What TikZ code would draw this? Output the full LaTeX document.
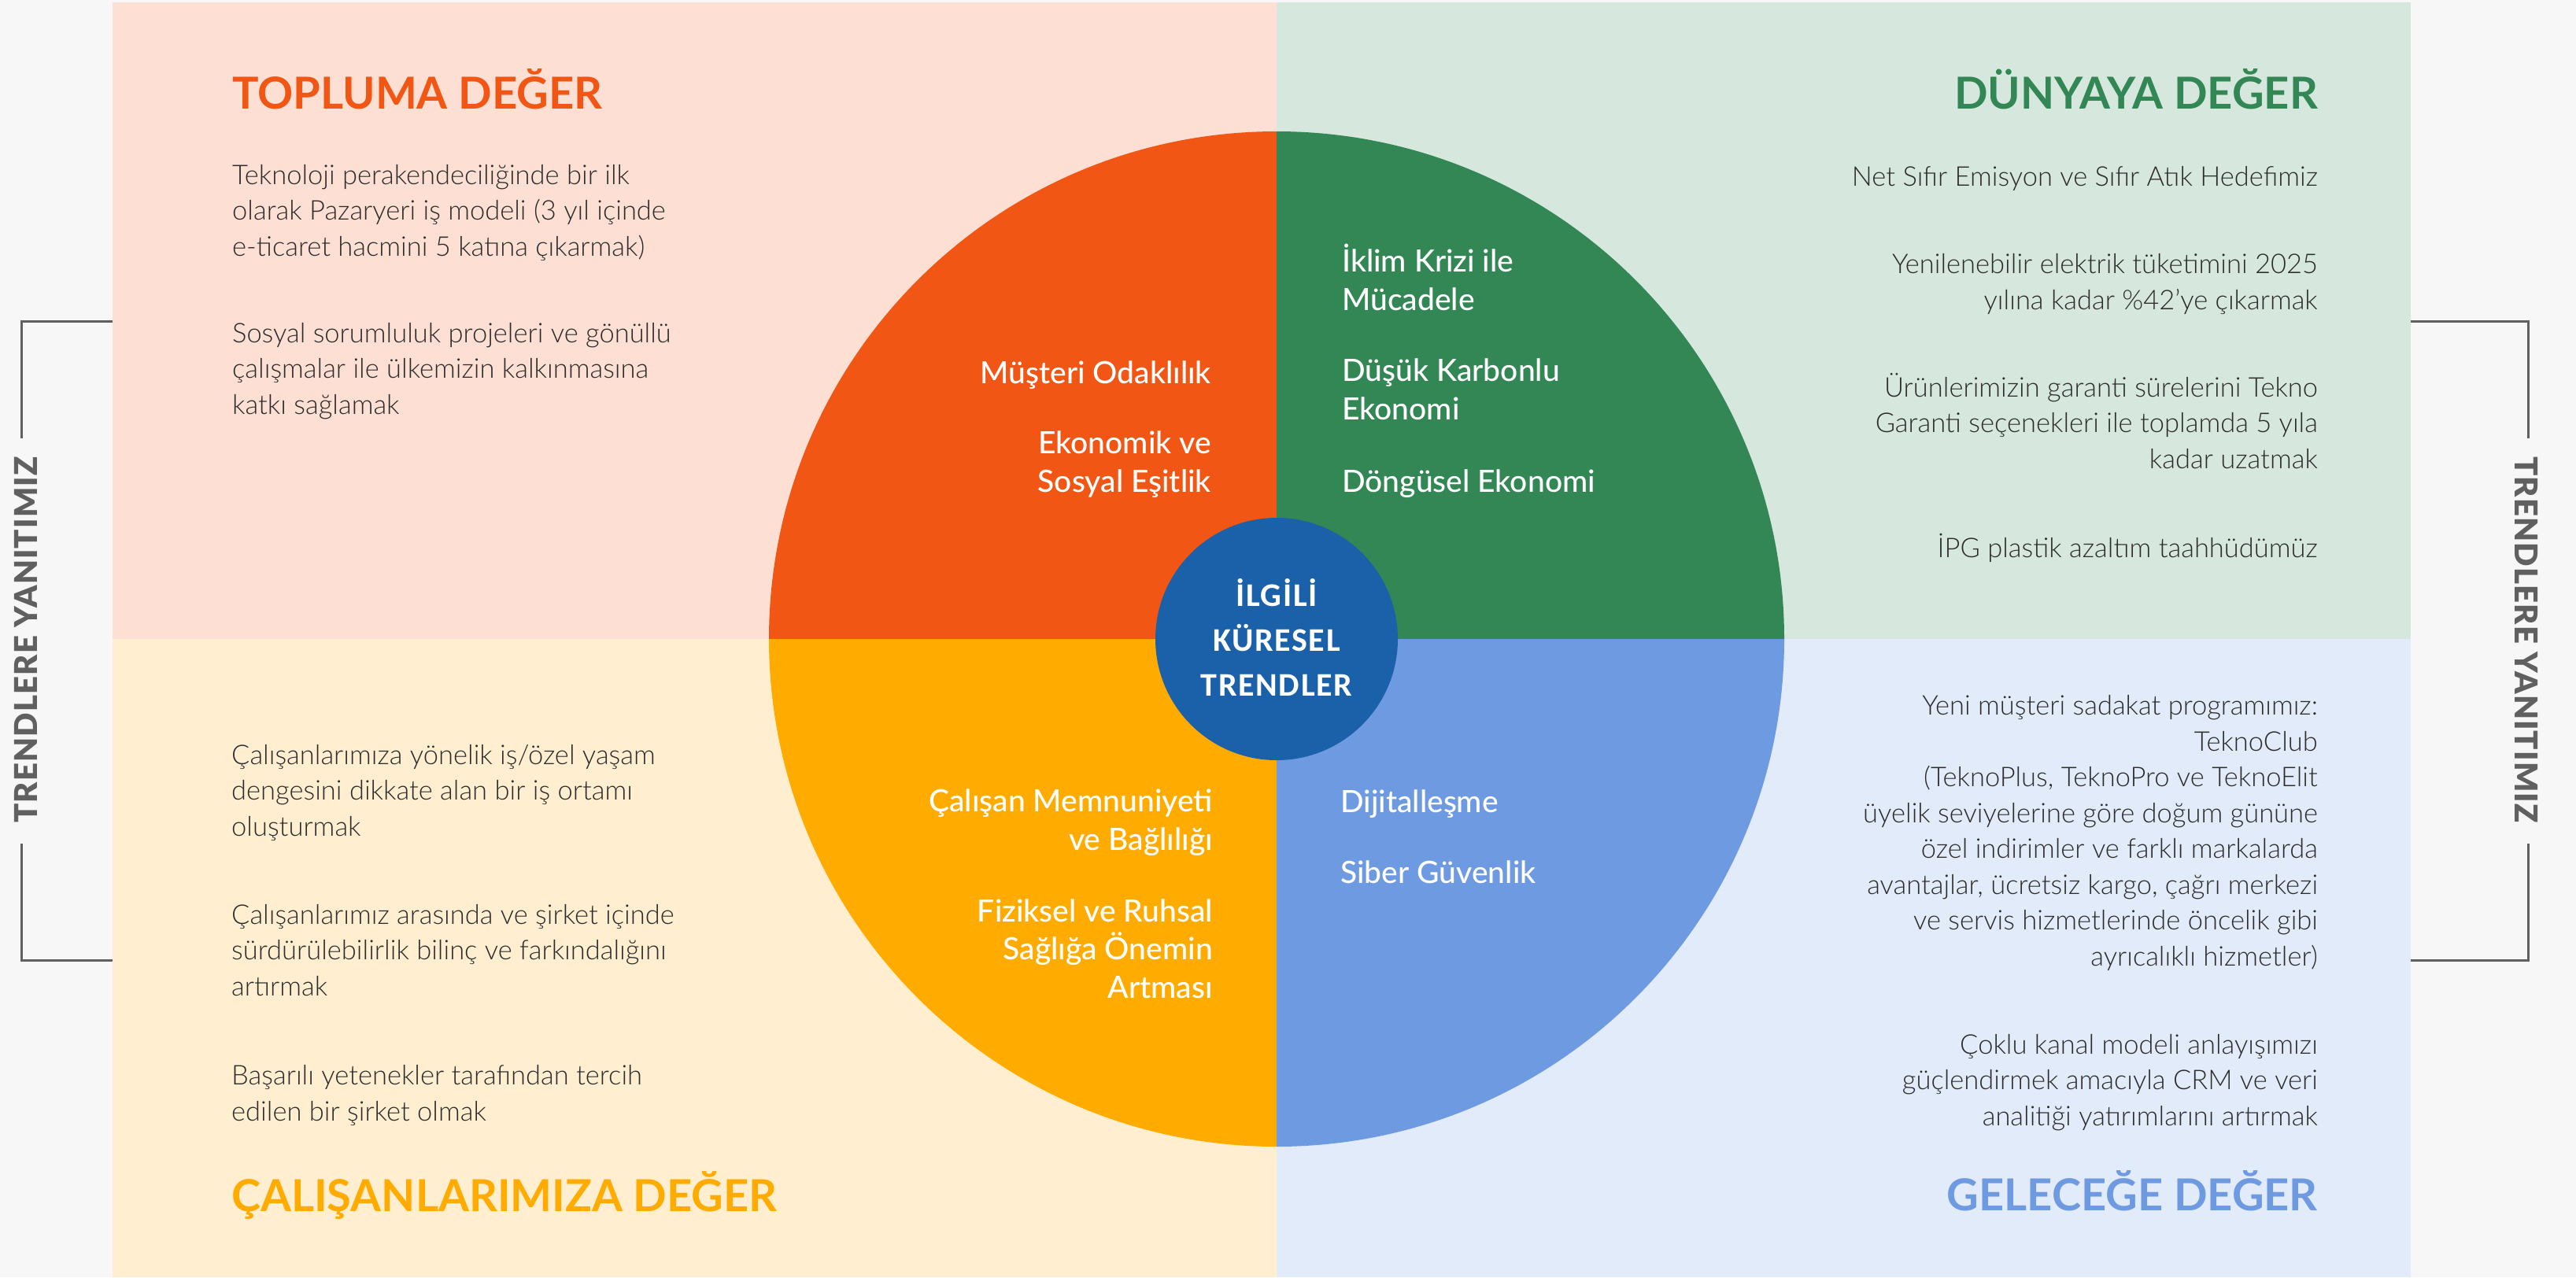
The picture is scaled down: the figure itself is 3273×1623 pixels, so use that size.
\documentclass[tikz,border=0pt]{standalone}
\usepackage{fontspec}
\setmainfont{Lato}
\newfontfamily\lightf{Lato Light}
\newfontfamily\medf{Lato Medium}
\newfontfamily\boldf{Lato Bold}
\newfontfamily\sidef[LetterSpace=3]{Lato Black}
\newfontfamily\carl[LetterSpace=4]{Carlito}
\definecolor{bg}{HTML}{F7F7F7}
\definecolor{peach}{HTML}{FDDFD3}
\definecolor{lgreen}{HTML}{D6E7DD}
\definecolor{lyellow}{HTML}{FFEFD0}
\definecolor{lblue}{HTML}{E2EBF9}
\definecolor{orng}{HTML}{F15614}
\definecolor{grn}{HTML}{328755}
\definecolor{yel}{HTML}{FFAB00}
\definecolor{blu}{HTML}{6E9AE1}
\definecolor{dblue}{HTML}{1B61AA}
\definecolor{txt}{HTML}{2B2B2B}
\definecolor{brk}{HTML}{606060}
\begin{document}
\begin{tikzpicture}[x=1pt,y=-1pt,
  body/.style={font=\lightf\fontsize{34.5}{45.5}\selectfont, text=txt, inner sep=0pt},
  wedge/.style={font=\medf\fontsize{39}{48.5}\selectfont, text=white, inner sep=0pt},
  title/.style={font=\boldf\fontsize{56}{60}\selectfont, inner sep=0pt},
  hubtext/.style={font=\carl\bfseries\fontsize{42}{57}\selectfont, text=white, inner sep=0pt, align=center},
  bracket/.style={draw=brk, line width=3pt},
  side/.style={font=\sidef\fontsize{40}{40}\selectfont, text=brk, inner sep=0pt}]
\fill[bg] (0,0) rectangle (3273,1623);
\useasboundingbox (0,0) rectangle (3273,1623);
% panels
\fill[peach] (143,3) rectangle (1622,812);
\fill[lgreen] (1622,3) rectangle (3063,812);
\fill[lyellow] (143,812) rectangle (1622,1623);
\fill[lblue] (1622,812) rectangle (3063,1623);
% big circle quadrants
\begin{scope}
\clip (1622,812) circle[radius=645pt];
\fill[orng] (970,160) rectangle (1622,812);
\fill[grn] (1622,160) rectangle (2275,812);
\fill[yel] (970,812) rectangle (1622,1465);
\fill[blu] (1622,812) rectangle (2275,1465);
\end{scope}
\node[circle, fill=dblue, minimum size=308pt, inner sep=0pt] (hub) at (1622,812) {};
% (multi-line nodes are anchored at the baseline of their last line)
\node[hubtext, anchor=base] (hubt) at (1622,884) {İLGİLİ\\KÜRESEL\\TRENDLER};
% titles
\node[title, text=orng, anchor=base west] (t1) at (295,138) {TOPLUMA DEĞER};
\node[title, text=grn, anchor=base east] (t2) at (2945,138) {DÜNYAYA DEĞER};
\node[title, text=yel, anchor=base west] (t3) at (294,1539) {ÇALIŞANLARIMIZA DEĞER};
\node[title, text=blu, anchor=base east] (t4) at (2945,1538) {GELECEĞE DEĞER};
% top left
\node[body, anchor=base west, align=left] (tl1) at (295,325) {Teknoloji perakendeciliğinde bir ilk\\olarak Pazaryeri iş modeli (3 yıl içinde\\e-ticaret hacmini 5 katına çıkarmak)};
\node[body, anchor=base west, align=left] (tl2) at (295,526) {Sosyal sorumluluk projeleri ve gönüllü\\çalışmalar ile ülkemizin kalkınmasına\\katkı sağlamak};
% top right
\node[body, anchor=base east, align=right] (tr1) at (2945,236) {Net Sıfır Emisyon ve Sıfır Atık Hedefimiz};
\node[body, anchor=base east, align=right] (tr2) at (2945,393) {Yenilenebilir elektrik tüketimini 2025\\yılına kadar \%42’ye çıkarmak};
\node[body, anchor=base east, align=right] (tr3) at (2945,595) {Ürünlerimizin garanti sürelerini Tekno\\Garanti seçenekleri ile toplamda 5 yıla\\kadar uzatmak};
\node[body, anchor=base east, align=right] (tr4) at (2945,708) {İPG plastik azaltım taahhüdümüz};
% bottom left
\node[body, anchor=base west, align=left] (bl1) at (294,1062) {Çalışanlarımıza yönelik iş/özel yaşam\\dengesini dikkate alan bir iş ortamı\\oluşturmak};
\node[body, anchor=base west, align=left] (bl2) at (294,1265) {Çalışanlarımız arasında ve şirket içinde\\sürdürülebilirlik bilinç ve farkındalığını\\artırmak};
\node[body, anchor=base west, align=left] (bl3) at (294,1424) {Başarılı yetenekler tarafından tercih\\edilen bir şirket olmak};
% bottom right
\node[body, anchor=base east, align=right] (br1) at (2945,1227) {Yeni müşteri sadakat programımız:\\TeknoClub\\(TeknoPlus, TeknoPro ve TeknoElit\\üyelik seviyelerine göre doğum gününe\\özel indirimler ve farklı markalarda\\avantajlar, ücretsiz kargo, çağrı merkezi\\ve servis hizmetlerinde öncelik gibi\\ayrıcalıklı hizmetler)};
\node[body, anchor=base east, align=right] (br2) at (2945,1430) {Çoklu kanal modeli anlayışımızı\\güçlendirmek amacıyla CRM ve veri\\analitiği yatırımlarını artırmak};
% wedge texts
\node[wedge, anchor=base east, align=right] (w1) at (1539,487) {Müşteri Odaklılık};
\node[wedge, anchor=base east, align=right] (w2) at (1539,625) {Ekonomik ve\\Sosyal Eşitlik};
\node[wedge, anchor=base west, align=left] (w3) at (1705,394) {İklim Krizi ile\\Mücadele};
\node[wedge, anchor=base west, align=left] (w4) at (1705,533) {Düşük Karbonlu\\Ekonomi};
\node[wedge, anchor=base west, align=left] (w5) at (1705,625) {Döngüsel Ekonomi};
\node[wedge, anchor=base east, align=right] (w6) at (1541,1080) {Çalışan Memnuniyeti\\ve Bağlılığı};
\node[wedge, anchor=base east, align=right] (w7) at (1541,1268) {Fiziksel ve Ruhsal\\Sağlığa Önemin\\Artması};
\node[wedge, anchor=base west, align=left] (w8) at (1703,1032) {Dijitalleşme};
\node[wedge, anchor=base west, align=left] (w9) at (1703,1122) {Siber Güvenlik};
% side labels and brackets
\node[side, rotate=90] (sl) at (33,813) {TRENDLERE YANITIMIZ};
\node[side, rotate=-90] (sr) at (3210,813) {TRENDLERE YANITIMIZ};
\coordinate (lt) at (143,408);
\coordinate (lb) at (143,1220);
\coordinate (rt) at (3063,408);
\coordinate (rb) at (3063,1220);
\draw[bracket] (lt) -| (27,557);
\draw[bracket] (27,1072) |- (lb);
\draw[bracket] (rt) -| (3212,557);
\draw[bracket] (3212,1072) |- (rb);
\end{tikzpicture}
\end{document}
